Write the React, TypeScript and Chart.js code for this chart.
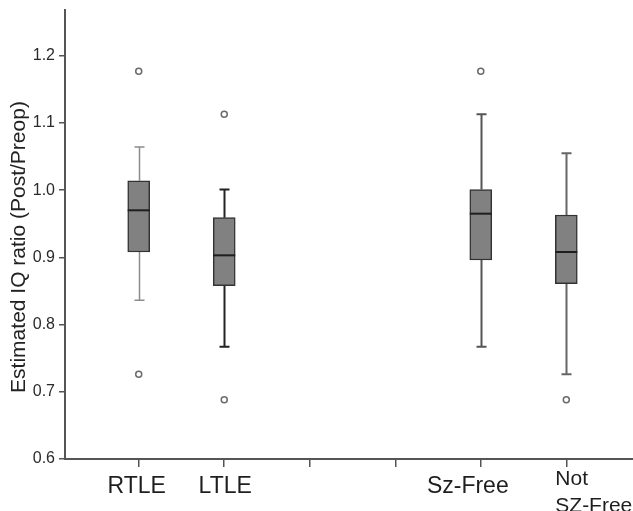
import React, { useEffect, useRef } from "react";
import { Chart, registerables } from "chart.js";
Chart.register(...registerables);

const categoryLabels: string[][] = [["RTLE"], ["LTLE"], [""], [""], ["Sz-Free"], ["Not", "SZ-Free"]];
const categoryPositions = [1, 2, 3, 4, 5, 6];
const boxPositions = [1, 2, 5, 6];
const whiskerLow = [0.836, 0.767, 0.767, 0.726];
const q1 = [0.908, 0.858, 0.896, 0.861];
const medians = [0.97, 0.903, 0.965, 0.908];
const q3 = [1.014, 0.959, 1.001, 0.963];
const whiskerHigh = [1.064, 1.001, 1.113, 1.055];
const outlierX = [1, 1, 2, 2, 5, 6];
const outlierY = [1.177, 0.726, 1.113, 0.688, 1.177, 0.688];
const yTickValues = [0.6, 0.7, 0.8, 0.9, 1.0, 1.1, 1.2];
const whiskerColors = ["#8c8c8c", "#222222", "#555555", "#666666"];
const whiskerWidths = [1.5, 2, 2, 2];
const yTitle = "Estimated IQ ratio (Post/Preop)";

// layout-only tweaks for the category labels (pixel shifts from the tick)
const LABEL_SHIFT = [-2, 1, 0, 0, -13, -11];
const FONT = "'Liberation Sans', Arial, sans-serif";

const BOX_W = 22;
const CAP_W = 10;

const boxPartsPlugin = {
  id: "boxParts",
  beforeDatasetsDraw(chart: any) {
    const ctx = chart.ctx;
    const xs = chart.scales.x;
    const ys = chart.scales.y;
    ctx.save();
    boxPositions.forEach((p, i) => {
      const x = Math.round(xs.getPixelForValue(p)) + 0.5;
      ctx.strokeStyle = whiskerColors[i];
      ctx.lineWidth = whiskerWidths[i];
      ctx.beginPath();
      ctx.moveTo(x, ys.getPixelForValue(whiskerLow[i]));
      ctx.lineTo(x, ys.getPixelForValue(q1[i]));
      ctx.moveTo(x, ys.getPixelForValue(q3[i]));
      ctx.lineTo(x, ys.getPixelForValue(whiskerHigh[i]));
      const lo = ys.getPixelForValue(whiskerLow[i]);
      const hi = ys.getPixelForValue(whiskerHigh[i]);
      ctx.moveTo(x - CAP_W / 2, lo);
      ctx.lineTo(x + CAP_W / 2, lo);
      ctx.moveTo(x - CAP_W / 2, hi);
      ctx.lineTo(x + CAP_W / 2, hi);
      ctx.stroke();
    });
    ctx.restore();
  },
  afterDatasetsDraw(chart: any) {
    const ctx = chart.ctx;
    const xs = chart.scales.x;
    const ys = chart.scales.y;
    ctx.save();
    ctx.strokeStyle = "#1e1e1e";
    ctx.lineWidth = 2;
    boxPositions.forEach((p, i) => {
      const x = xs.getPixelForValue(p);
      const y = ys.getPixelForValue(medians[i]);
      ctx.beginPath();
      ctx.moveTo(x - BOX_W / 2, y);
      ctx.lineTo(x + BOX_W / 2, y);
      ctx.stroke();
    });
    ctx.restore();
  },
  afterDraw(chart: any) {
    const ctx = chart.ctx;
    const xs = chart.scales.x;
    const base = chart.chartArea.bottom;
    ctx.save();
    ctx.fillStyle = "#1e1e1e";
    ctx.textBaseline = "alphabetic";
    categoryPositions.forEach((p, i) => {
      const lines = categoryLabels[i];
      const x = xs.getPixelForValue(p) + LABEL_SHIFT[i];
      if (lines.length === 1) {
        ctx.font = `23px ${FONT}`;
        ctx.textAlign = "center";
        ctx.fillText(lines[0], x, base + 33.5);
      } else {
        ctx.font = `21px ${FONT}`;
        ctx.textAlign = "left";
        lines.forEach((ln, k) => ctx.fillText(ln, x, base + 26 + k * 26.5));
      }
    });
    ctx.translate(19.5, 247);
    ctx.rotate(-Math.PI / 2);
    ctx.font = `21px ${FONT}`;
    ctx.fillStyle = "#222";
    ctx.textAlign = "center";
    ctx.textBaseline = "middle";
    ctx.fillText(yTitle, 0, 0);
    ctx.restore();
  },
};

export default function App() {
  const ref = useRef<HTMLCanvasElement | null>(null);
  useEffect(() => {
    if (!ref.current) return;
    const chart = new Chart(ref.current, {
      type: "bar",
      data: {
        datasets: [
          {
            type: "bar",
            data: boxPositions.map((p, i) => ({ x: p, y: [q1[i], q3[i]] })) as any,
            backgroundColor: "#818181",
            borderColor: "#333333",
            borderWidth: 1.5,
            borderSkipped: false,
            barThickness: BOX_W,
          } as any,
          {
            type: "scatter",
            data: outlierX.map((x, i) => ({ x, y: outlierY[i] })),
            pointRadius: 3,
            pointBackgroundColor: "#ffffff",
            pointBorderColor: "#6a6a6a",
            pointBorderWidth: 1.5,
            showLine: false,
          } as any,
        ],
      },
      options: {
        animation: false,
        responsive: true,
        maintainAspectRatio: false,
        layout: { autoPadding: false, padding: { top: 10, left: 0, right: 0, bottom: 0 } },
        plugins: { legend: { display: false }, tooltip: { enabled: false } },
        scales: {
          x: {
            type: "linear",
            offset: false,
            min: 0.138,
            max: 6.78,
            afterBuildTicks: (s: any) => {
              s.ticks = categoryPositions.map((v) => ({ value: v }));
            },
            afterFit: (s: any) => {
              s.height = 52;
              s.paddingLeft = 0;
              s.paddingRight = 0;
            },
            ticks: { display: false },
            grid: { offset: false, drawOnChartArea: false, tickLength: 8, color: "#555", lineWidth: 1.5 },
            border: { color: "#555", width: 2 },
          },
          y: {
            min: 0.6,
            max: 1.268,
            afterBuildTicks: (s: any) => {
              s.ticks = yTickValues.map((v) => ({ value: v }));
            },
            afterFit: (s: any) => {
              s.width = 65;
              s.paddingTop = 0;
              s.paddingBottom = 0;
            },
            ticks: {
              callback: (v: any) => Number(v).toFixed(1),
              font: { family: FONT, size: 16 },
              color: "#2a2a2a",
              padding: 4,
            },
            grid: { drawOnChartArea: false, tickLength: 6, color: "#555", lineWidth: 1.5 },
            border: { color: "#555", width: 2 },
          },
        },
      },
      plugins: [boxPartsPlugin],
    });
    return () => chart.destroy();
  }, []);
  return (
    <div style={{ position: "absolute", left: 0, top: 0, width: 633, height: 511, background: "#fff" }}>
      <canvas ref={ref} />
    </div>
  );
}
